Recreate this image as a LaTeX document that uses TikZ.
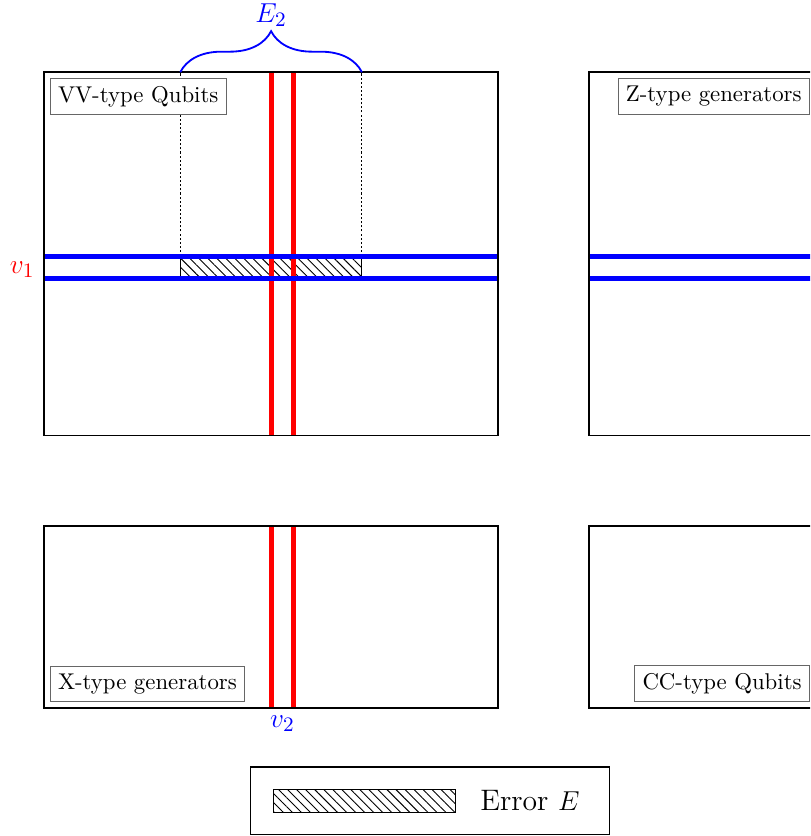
\documentclass[tikz,border=0pt]{standalone}
\usepackage{tikz}
\usetikzlibrary{positioning}
\usetikzlibrary{patterns.meta}
\usetikzlibrary{decorations.pathreplacing}

\begin{document}
\begin{tikzpicture}[x=0.7cm,y=0.7cm,
    quad/.style={draw,thick},
    tag node/.style={draw=black!60,thin,fill=white},
    big label/.style={font=\fontsize{13}{15.6}\selectfont},
    red line/.style={red,line width=2.2pt},
    blue line/.style={blue,line width=2.2pt},
    guide/.style={thin,dash pattern=on 0.9pt off 0.9pt},
    hatch/.style={draw,thin,pattern={Lines[angle=-45,distance=2.8pt,line width=0.4pt]}}]

      \useasboundingbox (-0.97,-2.82) rectangle (16.87,15.59);
      \clip (-0.97,-2.82) rectangle (16.87,15.59);

      % error on the rows of v_1
      \draw[hatch] (3,9.45) rectangle (7,9.95);
      \draw[guide] (3,9.95) -- (3,14) (7,9.95) -- (7,14);

      \foreach \x in {5, 5.5} {
        \draw[red line] (\x,6) -- (\x,14);
        \draw[red line] (\x,0) -- (\x,4);
      }
      \foreach \y in {9.45, 9.95} {
        \draw[blue line] (0,\y) -- (10,\y);
        \draw[blue line] (12,\y) -- (22,\y);
      }

      % the four blocks
      \draw[quad] (0,6) rectangle (10,14);
      \draw[quad] (12,6) rectangle (22,14);
      \draw[quad] (0,0) rectangle (10,4);
      \draw[quad] (12,0) rectangle (22,4);

      \draw[blue, thick, decorate, decoration={brace,amplitude=18pt}] (3,14) -- (7,14)
        node[midway, above=18pt, inner sep=1.5pt, big label] (e2) {$E_2$};

      \node[big label, red, anchor=east] (v1) at (-0.03,9.65) {$v_1$};
      \node[big label, blue, anchor=north] (v2) at (5.25,0) {$v_2$};

      \node[tag node, anchor=north west] (vvtag) at (0.13,13.87) {VV-type Qubits};
      \node[tag node, anchor=north east] (ztag) at (16.86,13.87) {Z-type generators};
      \node[tag node, anchor=south west] (xtag) at (0.13,0.13) {X-type generators};
      \node[tag node, anchor=south east] (cctag) at (16.86,0.13) {CC-type Qubits};

      % legend
      \draw[semithick] (4.55,-1.3) rectangle (12.45,-2.78);
      \draw[hatch] (5.05,-1.8) rectangle (9.05,-2.3);
      \node[big label] (errtag) at (10.7,-2.05) {Error $E$};
    \end{tikzpicture}
\end{document}
